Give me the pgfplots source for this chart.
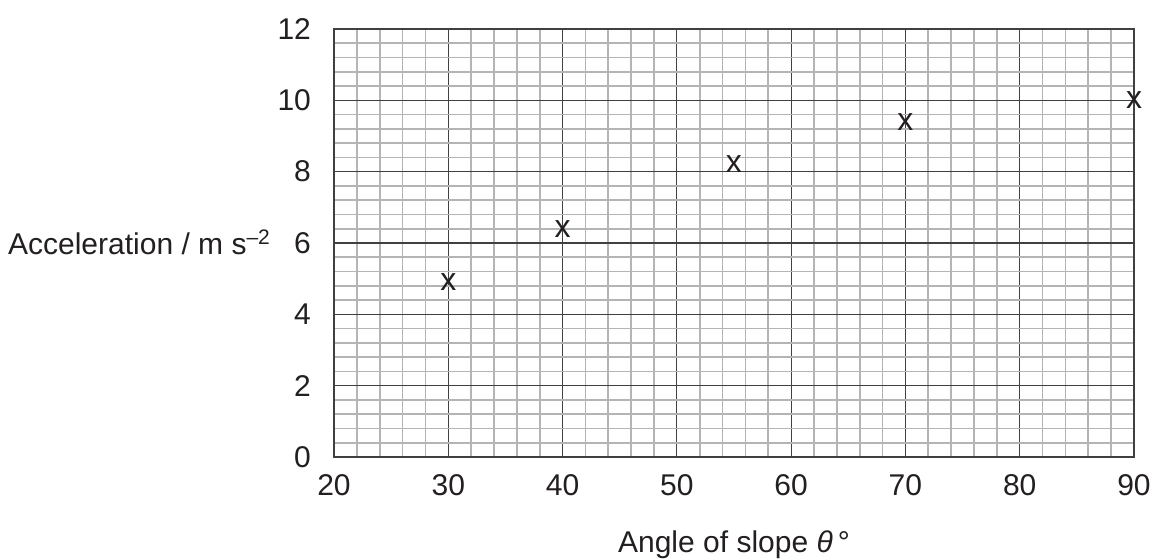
\documentclass[border=0pt]{standalone}
\usepackage{fontspec}
\setmainfont{Liberation Sans}
\usepackage{pgfplots}
\pgfplotsset{compat=1.18}

\definecolor{ink}{HTML}{231F20}
\definecolor{minorgrid}{HTML}{B4B4B4}
\definecolor{majorgrid}{HTML}{404040}

\begin{document}
\begin{tikzpicture}
  \begin{axis}[
      name=a,
      scale only axis,
      width=400pt, height=214pt,
      xmin=20, xmax=90, ymin=0, ymax=12,
      xtick={20,30,...,90}, ytick={0,2,...,12},
      minor x tick num=4, minor y tick num=4,
      major tick length=0pt, minor tick length=0pt,
      grid=both,
      major grid style={majorgrid, line width=0.6pt},
      minor grid style={minorgrid, line width=0.8pt},
      axis line style={majorgrid, line width=0.8pt},
      font=\fontsize{15}{18}\selectfont,
      /pgf/number format/assume math mode=true,
      ticklabel style={ink},
      xticklabel style={yshift=-5pt},
      yticklabel style={xshift=-8pt},
      xlabel={Angle of slope \textit{θ}\,°},
      ylabel={Acceleration / m s\textsuperscript{–2}},
      xlabel style={ink, at={(axis description cs:0.5,0)}, anchor=base, yshift=-48pt},
      ylabel style={ink, rotate=-90, at={(axis description cs:0,0.5)}, anchor=base east, xshift=-28pt, yshift=-6pt},
      clip=false,
    ]
    \addplot[only marks, mark=text, text mark={x}, text mark as node=true, ink,
      text mark style={font=\fontsize{16}{18}\selectfont, inner sep=0pt, anchor=center}]
      coordinates {(30,4.9) (40,6.4) (55,8.2) (70,9.4) (90,10.0)};
  \end{axis}
  \pgfresetboundingbox
  \path ([xshift=-167pt,yshift=-51.5pt]a.south west) rectangle ([xshift=14pt,yshift=14.5pt]a.north east);
\end{tikzpicture}
\end{document}
